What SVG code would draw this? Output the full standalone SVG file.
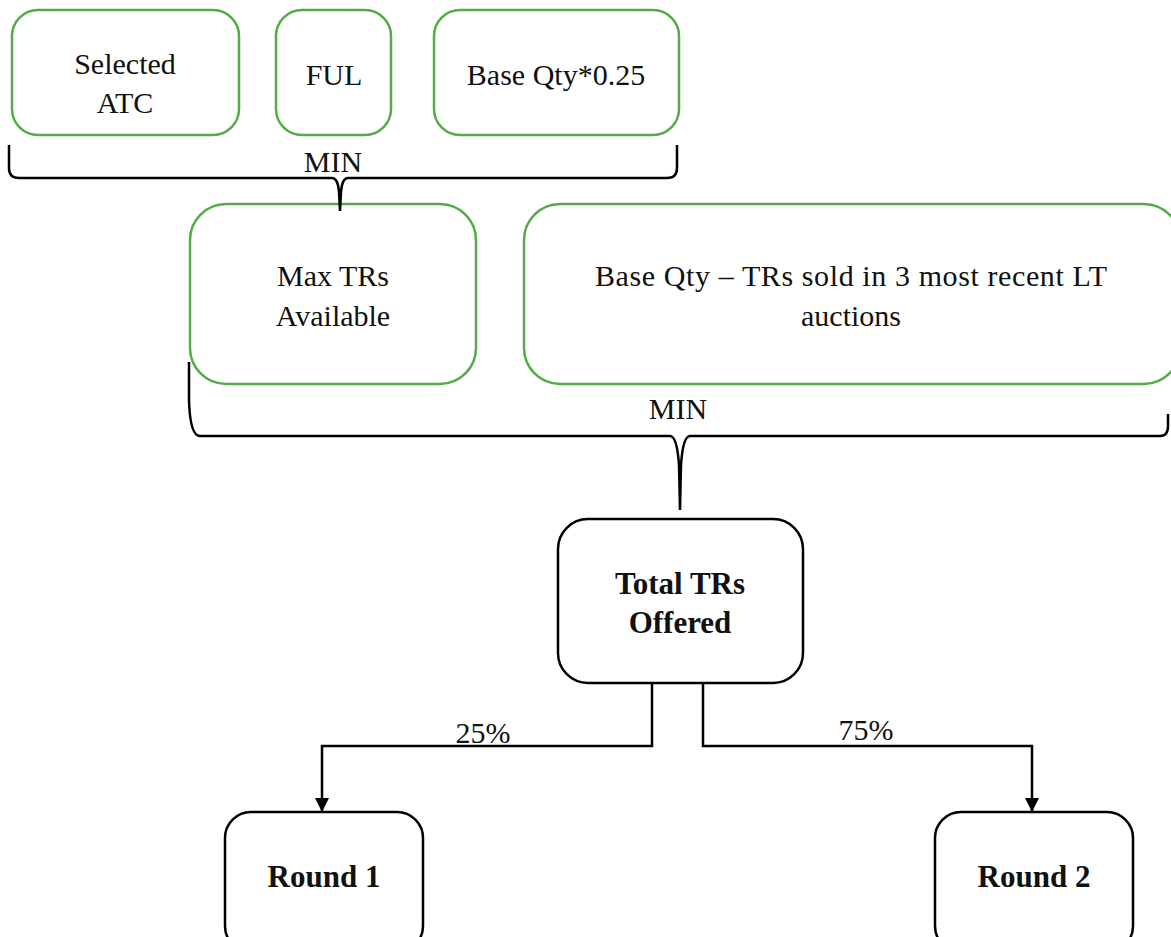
<svg xmlns="http://www.w3.org/2000/svg" width="1171" height="937" viewBox="0 0 1171 937">
<defs>
<marker id="arr" markerWidth="14" markerHeight="14" refX="14" refY="7" orient="auto" markerUnits="userSpaceOnUse" viewBox="0 0 14 14">
<path d="M0,0 L14,7 L0,14 Z" fill="#000"/>
</marker>
<style>
.g{fill:#fff;stroke:#52ad45;stroke-width:2.5}
.k{fill:#fff;stroke:#000;stroke-width:2.5}
.t{font-family:"Liberation Serif","DejaVu Serif",serif;font-size:30px;fill:#111;text-anchor:middle}
.b{font-weight:bold;font-size:31px}
.c{fill:none;stroke:#000;stroke-width:2.5}
</style>
</defs>
<rect width="1171" height="937" fill="#fff"/>
<g id="n-atc"><rect class="g" x="12" y="10" width="227" height="125" rx="26"/><text class="t" x="125" y="74">Selected</text><text class="t" x="125" y="113">ATC</text></g>
<g id="n-ful"><rect class="g" x="276" y="10" width="115" height="125" rx="26"/><text class="t" x="334" y="85">FUL</text></g>
<g id="n-base"><rect class="g" x="434" y="10" width="245" height="125" rx="26"/><text class="t" x="556" y="85">Base Qty*0.25</text></g>
<g id="n-max"><rect class="g" x="190" y="204" width="286" height="180" rx="36"/><text class="t" x="333" y="286">Max TRs</text><text class="t" x="333" y="326">Available</text></g>
<g id="n-sold"><rect class="g" x="524" y="204" width="656" height="180" rx="36"/><text class="t" x="851" y="286" textLength="512" lengthAdjust="spacing">Base Qty – TRs sold in 3 most recent LT</text><text class="t" x="851" y="326">auctions</text></g>
<g id="n-total"><rect class="k" x="558" y="519" width="245" height="164" rx="30"/><text class="t b" x="680" y="594">Total TRs</text><text class="t b" x="680" y="633">Offered</text></g>
<g id="n-r1"><rect class="k" x="225" y="812" width="198" height="140" rx="26"/><text class="t b" x="324" y="887">Round 1</text></g>
<g id="n-r2"><rect class="k" x="935" y="812" width="198" height="140" rx="26"/><text class="t b" x="1034" y="887">Round 2</text></g>
<g id="connectors">
<path class="c" d="M9,145 L9,168 Q9,178 19,178 L332,178 Q338,178 339,192 L340,211 L341,192 Q342,178 348,178 L667,178 Q677,178 677,168 L677,145"/>
<text class="t" x="333" y="172">MIN</text>
<path class="c" d="M189,362 L189,400 Q190,436 200,436 L670,436 Q677,436 679,465 L680,510 L681,465 Q683,436 690,436 L1160,436 Q1168,436 1168,426 L1168,414"/>
<text class="t" x="678" y="419">MIN</text>
<path class="c" d="M652,683 L652,746 L322,746 L322,812" marker-end="url(#arr)"/>
<path class="c" d="M703,683 L703,746 L1032,746 L1032,812" marker-end="url(#arr)"/>
<text class="t" x="483" y="743">25%</text>
<text class="t" x="866" y="740">75%</text>
</g>
</svg>
